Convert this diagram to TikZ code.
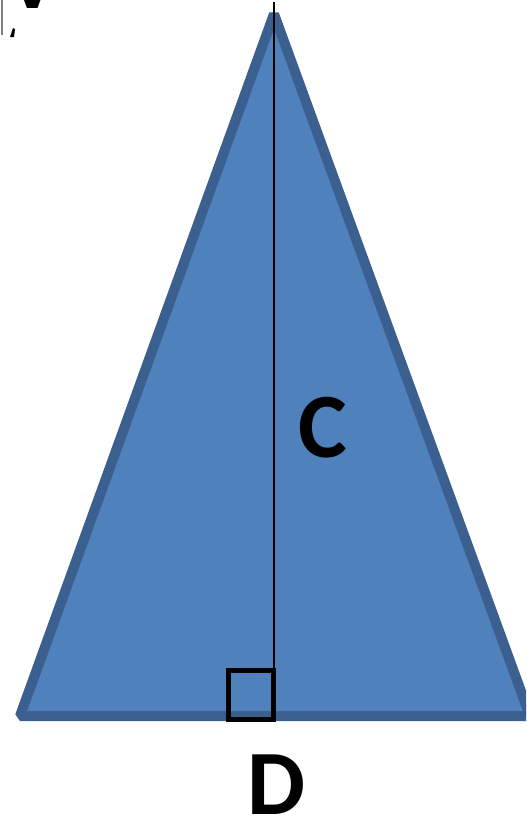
\documentclass[tikz,border=0pt]{standalone}
\usepackage{fontspec}
\setmainfont{Carlito}
\definecolor{triFill}{HTML}{4F81BD}
\definecolor{triEdge}{HTML}{3B6090}
\begin{document}
\begin{tikzpicture}[x=0.5pt,y=-0.5pt,
  lbl/.style={font=\fontsize{46}{50}\selectfont\bfseries, inner sep=0pt, anchor=base}]
\useasboundingbox (0,0) rectangle (526,821);
\clip (0,0) rectangle (526,821);
\fill[white] (0,0) rectangle (526,821);
% triangle
\coordinate (apex) at (274,14);
\coordinate (bl) at (20,716);
\coordinate (br) at (530,716);
\filldraw[fill=triFill, draw=triEdge, line width=5pt, line join=bevel] (apex) -- (bl) -- (br) -- cycle;
% altitude
\coordinate (top) at (274,2);
\coordinate (foot) at (274,718);
\draw[black, line width=1pt] (top) -- (foot);
% right-angle mark
\draw[black, line width=2.5pt] (228.5,670.5) rectangle (273.5,719.5);
% labels
\node[lbl] (C) at (323,457) {C};
\node[lbl] (D) at (276,814) {D};
% cropped label at top-left
\node[lbl] (V) at (33,8) {V};
\draw[gray, line width=1pt] (2,0) -- (2,35);
\fill[black] (10,37) -- (13,28) -- (15,29) -- (14,37) -- cycle;
\end{tikzpicture}
\end{document}
